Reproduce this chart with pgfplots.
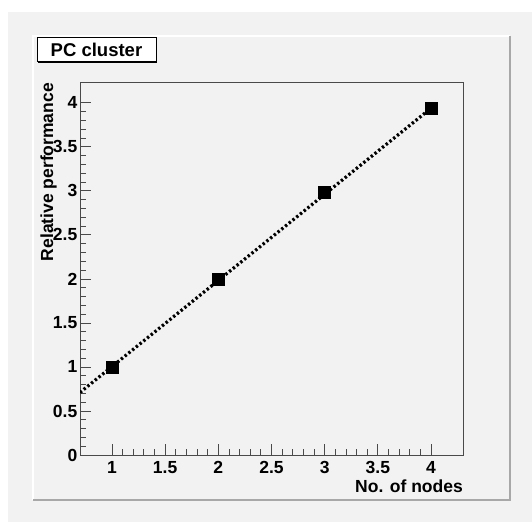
\documentclass[border=0pt]{standalone}
\usepackage{pgfplots}
\pgfplotsset{compat=1.18}
\usepackage{fontspec}
\setmainfont{Liberation Sans}
\definecolor{canvas}{HTML}{F2F2F2}
\definecolor{shadow}{HTML}{A8A8A8}
\definecolor{frame}{HTML}{4A4A4A}
\begin{document}
\begin{tikzpicture}[x=1pt,y=1pt]
  % canvas and pad (pixel grid, origin bottom left)
  \useasboundingbox (0,0) rectangle (532,522);
  \fill[white] (0,0) rectangle (532,522);
  \fill[canvas] (8,0) rectangle (532,510);
  \draw[white, line width=1.5pt] (33,22) -- (33,486) -- (510,486);
  \draw[shadow, line width=1.5pt] (33,22) -- (510,22) -- (510,486);

  \begin{axis}[
    at={(80pt,67pt)}, anchor=south west,
    scale only axis, width=383pt, height=372pt,
    xmin=0.7, xmax=4.3, ymin=0, ymax=4.225,
    xtick={1,1.5,2,2.5,3,3.5,4},
    ytick={0,0.5,1,1.5,2,2.5,3,3.5,4},
    minor tick num=4,
    xtick pos=bottom, ytick pos=left,
    tick align=inside,
    major tick length=11pt, minor tick length=6pt,
    tick style={frame, line width=0.8pt},
    axis line style={frame, line width=1pt},
    /pgf/number format/assume math mode=true,
    ticklabel style={font=\bfseries\fontsize{17.5}{17.5}\selectfont, inner sep=0pt},
    xticklabel style={yshift=-6pt},
    yticklabel style={xshift=-2.5pt},
    xlabel={No. of nodes},
    ylabel={Relative performance},
    label style={font=\bfseries\fontsize{17.5}{17.5}\selectfont, inner sep=0pt},
    xlabel style={at={(axis description cs:1,-0.065)}, anchor=north east},
    ylabel style={at={(axis description cs:-0.06,1)}, anchor=south east},
  ]
  % fitted line
  \addplot[black, line width=3.2pt, dash pattern=on 2.4pt off 2.4pt]
    coordinates {(0.7,0.71) (4,3.94)};
  % measured points
  \addplot[only marks, mark=square*, mark size=6pt, black]
    coordinates {(1,1) (2,2) (3,2.99) (4,3.94)};
  \end{axis}

  % title box
  \draw[black, fill=white, line width=1pt] (37,460) rectangle (156,484);
  \draw[black, line width=1.2pt] (38,459.5) -- (156.5,459.5) -- (156.5,483);
  \node[font=\bfseries\fontsize{18.5}{18.5}\selectfont] at (96.5,472) {PC cluster};
\end{tikzpicture}
\end{document}
